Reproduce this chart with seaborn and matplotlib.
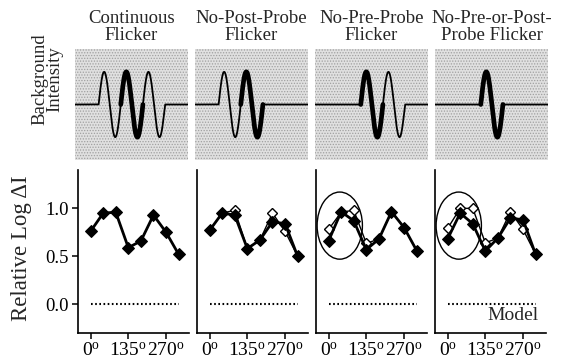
import numpy as np
import pandas as pd
import matplotlib
matplotlib.use("Agg")
import matplotlib.pyplot as plt
from matplotlib.patches import Ellipse, Rectangle
import seaborn as sns

# ---- data -------------------------------------------------------------
conditions = ["Continuous\nFlicker", "No-Post-Probe\nFlicker",
              "No-Pre-Probe\nFlicker", "No-Pre-or-Post-\nProbe Flicker"]
pre_cycles = [1, 1, 0, 0]    # thin flicker cycles before the probe cycle
post_cycles = [1, 0, 1, 0]   # thin flicker cycles after the probe cycle

phases = [0, 45, 90, 135, 180, 225, 270, 315]
filled_vals = [
    [0.76, 0.95, 0.96, 0.59, 0.66, 0.93, 0.75, 0.52],
    [0.77, 0.95, 0.93, 0.58, 0.67, 0.86, 0.84, 0.50],
    [0.66, 0.965, 0.87, 0.57, 0.68, 0.965, 0.80, 0.56],
    [0.68, 0.95, 0.84, 0.555, 0.69, 0.90, 0.88, 0.52],
]
open_vals = [
    None,
    [0.77, 0.95, 0.98, 0.58, 0.67, 0.95, 0.76, 0.50],
    [0.78, 0.96, 0.98, 0.635, 0.68, 0.965, 0.80, 0.56],
    [0.79, 1.00, 1.00, 0.64, 0.69, 0.965, 0.78, 0.52],
]
model_vals = [0, 0, 0, 0, 0, 0, 0, 0]
circled = [False, False, True, True]

yticks = [0.0, 0.5, 1.0]
ytick_labels = ["0.0", "0.5", "1.0"]
xticks = [0, 135, 270]
xtick_labels = [r"$0^{\mathrm{o}}$", r"$135^{\mathrm{o}}$", r"$270^{\mathrm{o}}$"]

# ---- style ------------------------------------------------------------
sns.set_theme(style="ticks")
plt.rcParams["font.family"] = ["Liberation Serif", "DejaVu Serif"]
plt.rcParams["mathtext.fontset"] = "custom"
plt.rcParams["mathtext.rm"] = "Liberation Serif"
plt.rcParams["mathtext.it"] = "Liberation Serif:italic"
plt.rcParams["hatch.linewidth"] = 0.6

W, H = 563, 362
fig = plt.figure(figsize=(W / 100, H / 100), dpi=100)
fig.patch.set_facecolor("white")

# ---- top row: flicker waveforms ----------------------------------------
period = 0.196
probe_start = 0.405
for k in range(4):
    ax = fig.add_axes([(75 + 120 * k) / W, 1 - 160 / H, 113 / W, 111 / H])
    ax.set_xlim(0, 1)
    ax.set_ylim(-1.7, 1.7)
    ax.axis("off")
    ax.add_patch(Rectangle((0, 0), 1, 1, transform=ax.transAxes,
                           facecolor="#e0e0e0", edgecolor="#a0a0a0",
                           hatch="......", linewidth=0, zorder=0))
    start = probe_start - pre_cycles[k] * period
    end = probe_start + (1 + post_cycles[k]) * period
    t = np.linspace(0, 1, 2000)
    inside = (t >= start) & (t <= end)
    y = np.where(inside, np.sin(2 * np.pi * (t - probe_start) / period), 0.0)
    ax.plot(t, y, color="black", lw=1.3, zorder=2)
    tp = np.linspace(probe_start, probe_start + period, 400)
    ax.plot(tp, np.sin(2 * np.pi * (tp - probe_start) / period),
            color="black", lw=3.4, solid_capstyle="round", zorder=3)
    fig.text((75 + 120 * k + 56.5) / W, 1 - 27 / H, conditions[k],
             ha="center", va="center", fontsize=13.5, linespacing=0.95)

fig.text(47 / W, 1 - 79 / H, "Background\nIntensity", rotation=90,
         ha="center", va="center", fontsize=13.5, linespacing=0.85,
         multialignment="center")

# ---- bottom row: threshold vs phase -------------------------------------
for k in range(4):
    ax = fig.add_axes([(78 + 119 * k) / W, 29 / H, 111 / W, 163 / H])
    ax.set_xlim(-45, 352)
    ax.set_ylim(-0.30, 1.40)
    ax.set_facecolor("white")
    sns.despine(ax=ax)
    for s in ("left", "bottom"):
        ax.spines[s].set_linewidth(1.2)
        ax.spines[s].set_color("black")

    sns.lineplot(x=phases, y=model_vals, ax=ax, color="black", lw=1.5,
                 linestyle=(0, (0.8, 1.2)), sort=False, estimator=None)

    if open_vals[k] is not None:
        sns.lineplot(x=phases, y=open_vals[k], ax=ax, color="black", lw=1.0,
                     marker="D", markersize=5.3, markerfacecolor="white",
                     markeredgecolor="black", markeredgewidth=1.0,
                     sort=False, estimator=None, zorder=3)
    sns.lineplot(x=phases, y=filled_vals[k], ax=ax, color="black", lw=2.0,
                 marker="D", markersize=6.4, markerfacecolor="black",
                 markeredgecolor="black", sort=False, estimator=None, zorder=4)

    if circled[k]:
        ax.add_patch(Ellipse((40, 0.82), 162, 0.70, fill=False,
                             edgecolor="black", lw=1.0, zorder=5))

    ax.set_xticks(xticks)
    ax.set_xticklabels(xtick_labels, fontsize=14)
    ax.tick_params(axis="x", direction="out", length=4, width=1.1,
                   pad=2.5, colors="black")
    if k == 0:
        ax.set_yticks(yticks)
        ax.set_yticklabels(ytick_labels, fontsize=13.5)
        ax.tick_params(axis="y", direction="out", length=4, width=1.1,
                       pad=2.5, colors="black")
    else:
        ax.set_yticks([])
    ax.set_xlabel("")
    ax.set_ylabel("")
    ax.grid(False)

    if k == 3:
        ax.text(0.93, 0.11, "Model", transform=ax.transAxes, ha="right",
                va="center", fontsize=14)

fig.text(22 / W, 1 - 248 / H, "Relative Log \u0394I",
         rotation=90, ha="center", va="center", fontsize=16.5)

fig.savefig("out.png", dpi=100, facecolor="white")
